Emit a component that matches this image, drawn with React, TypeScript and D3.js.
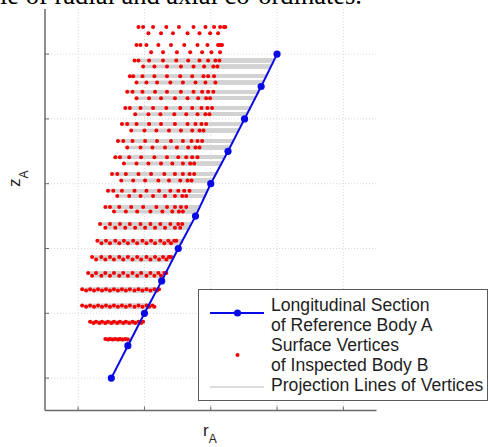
import { useEffect, useRef } from 'react';
import * as d3 from 'd3';

// tick positions (the original shows no tick labels)
const rTicks = [0, 1, 2, 3, 4];
const zTicks = [0, 1, 2, 3, 4, 5];

// longitudinal section of reference body A
const sectionR = [0.5, 0.75, 1.0, 1.26, 1.51, 1.77, 2.0, 2.26, 2.51, 2.76, 3.0];
const sectionZ = [0, 0.5, 1.0, 1.5, 2.0, 2.5, 3.0, 3.5, 4.0, 4.5, 5.0];

// surface vertices of inspected body B, one ring per row (upper / lower half of each ring)
const rowZUpper = [5.42, 5.14, 4.9, 4.66, 4.42, 4.17, 3.92, 3.66, 3.41, 3.15, 2.89, 2.64, 2.38, 2.12, 1.87, 1.62, 1.37, 1.12, 0.87, 0.605];
const rowZLower = [5.32, 5.03, 4.81, 4.56, 4.32, 4.07, 3.82, 3.56, 3.31, 3.05, 2.81, 2.57, 2.32, 2.08, 1.83, 1.58, 1.35, 1.1, 0.85, 0.595];

const rowUpperR = [
    [0.91, 0.98, 1.13, 1.33, 1.52, 1.74, 1.92, 2.05, 2.14, 2.2, 2.22],
    [0.88, 0.94, 1.03, 1.21, 1.4, 1.6, 1.8, 1.95, 2.11, 2.14, 2.17],
    [0.85, 0.91, 1.07, 1.28, 1.48, 1.66, 1.83, 1.96, 2.07, 2.13],
    [0.78, 0.83, 0.97, 1.15, 1.34, 1.54, 1.72, 1.89, 1.96, 2.05],
    [0.74, 0.82, 0.97, 1.16, 1.34, 1.55, 1.74, 1.87, 1.96, 2.04],
    [0.71, 0.78, 0.94, 1.13, 1.33, 1.54, 1.72, 1.86, 1.95, 2.02],
    [0.66, 0.74, 0.88, 1.07, 1.25, 1.46, 1.65, 1.77, 1.86, 1.93],
    [0.6, 0.68, 0.82, 1.01, 1.19, 1.4, 1.58, 1.71, 1.8, 1.87],
    [0.56, 0.63, 0.77, 0.95, 1.15, 1.34, 1.51, 1.63, 1.72, 1.8],
    [0.51, 0.59, 0.72, 0.91, 1.1, 1.3, 1.46, 1.58, 1.68, 1.75],
    [0.45, 0.53, 0.66, 0.85, 1.03, 1.22, 1.39, 1.51, 1.6, 1.68],
    [0.41, 0.48, 0.62, 0.8, 0.98, 1.18, 1.34, 1.46, 1.55, 1.63],
    [0.33, 0.48, 0.63, 0.78, 0.94, 1.09, 1.24, 1.39, 1.51, 1.57],
    [0.29, 0.42, 0.56, 0.69, 0.83, 0.97, 1.1, 1.24, 1.36, 1.45, 1.48],
    [0.21, 0.35, 0.48, 0.62, 0.75, 0.89, 1.03, 1.16, 1.28, 1.37, 1.4],
    [0.15, 0.27, 0.41, 0.54, 0.68, 0.82, 0.95, 1.09, 1.21, 1.3, 1.33],
    [0.06, 0.18, 0.3, 0.42, 0.54, 0.66, 0.78, 0.91, 1.03, 1.15, 1.22],
    [0.06, 0.18, 0.3, 0.42, 0.54, 0.66, 0.78, 0.91, 1.03, 1.12],
    [0.18, 0.27, 0.36, 0.45, 0.54, 0.63, 0.72, 0.82, 0.91, 0.98],
    [0.41, 0.48, 0.56, 0.63, 0.71],
];

const rowLowerR = [
    [1.06, 1.25, 1.43, 1.65, 1.83, 1.99, 2.11],
    [1.1, 1.28, 1.49, 1.69, 1.87, 2.01, 2.14],
    [0.98, 1.15, 1.34, 1.55, 1.74, 1.9, 2.04, 2.1],
    [0.88, 1.03, 1.19, 1.39, 1.58, 1.77, 1.92, 2.07],
    [0.88, 1.07, 1.25, 1.46, 1.65, 1.81, 1.93, 1.99],
    [0.86, 1.06, 1.24, 1.45, 1.63, 1.8, 1.92, 1.98],
    [0.8, 1.0, 1.18, 1.37, 1.55, 1.72, 1.83, 1.89],
    [0.74, 0.94, 1.12, 1.31, 1.49, 1.66, 1.77, 1.83],
    [0.69, 0.88, 1.06, 1.25, 1.42, 1.58, 1.69, 1.75],
    [0.65, 0.83, 1.01, 1.21, 1.37, 1.54, 1.65, 1.71],
    [0.59, 0.77, 0.94, 1.13, 1.31, 1.46, 1.57, 1.63],
    [0.54, 0.72, 0.89, 1.09, 1.27, 1.42, 1.52, 1.58],
    [0.41, 0.56, 0.71, 0.86, 1.01, 1.16, 1.31, 1.46, 1.54],
    [0.35, 0.48, 0.62, 0.75, 0.89, 1.03, 1.16, 1.3, 1.4],
    [0.27, 0.41, 0.54, 0.68, 0.82, 0.95, 1.09, 1.22, 1.33],
    [0.21, 0.35, 0.48, 0.62, 0.75, 0.89, 1.03, 1.15, 1.25],
    [0.12, 0.24, 0.36, 0.48, 0.6, 0.72, 0.85, 0.97, 1.09, 1.19],
    [0.12, 0.24, 0.36, 0.48, 0.6, 0.72, 0.85, 0.97, 1.07, 1.15],
    [0.23, 0.32, 0.41, 0.5, 0.59, 0.68, 0.77, 0.86, 0.95],
    [0.45, 0.52, 0.6, 0.67, 0.75],
];

const legendLabels = [
    ['Longitudinal Section', 'of Reference Body A'],
    ['Surface Vertices', 'of Inspected Body B'],
    ['Projection Lines of Vertices'],
];

const App = () => {
    const svgRef = useRef<SVGSVGElement>(null);

    useEffect(() => {
        if (!svgRef.current) return;
        const svg = d3.select(svgRef.current);
        svg.selectAll('*').remove();

        const width = 488;
        const height = 447;
        const plot = { left: 45, right: 376.5, top: 9, bottom: 410.5 };

        svg.attr('width', width).attr('height', height);
        svg.append('rect').attr('width', width).attr('height', height).attr('fill', '#fff');

        const x = d3.scaleLinear().domain([-0.5, 4.5]).range([plot.left, plot.right]);
        const y = d3.scaleLinear().domain([-0.5, 5.696]).range([plot.bottom, plot.top]);

        // grid
        const grid = svg.append('g').attr('stroke', '#d8d8d8').attr('stroke-width', 1).attr('stroke-dasharray', '1,2');
        rTicks.forEach(t => {
            grid.append('line')
                .attr('x1', x(t)).attr('x2', x(t))
                .attr('y1', plot.top).attr('y2', plot.bottom);
        });
        zTicks.forEach(t => {
            grid.append('line')
                .attr('x1', plot.left).attr('x2', plot.right)
                .attr('y1', y(t)).attr('y2', y(t));
        });

        // vertices as [r, z]
        const vertices: [number, number][] = [];
        rowZUpper.forEach((zu, i) => {
            rowUpperR[i].forEach(r => vertices.push([r, zu]));
            rowLowerR[i].forEach(r => vertices.push([r, rowZLower[i]]));
        });

        // horizontal projection onto the section line
        const sectionAt = d3.scaleLinear().domain(sectionZ).range(sectionR);
        const zMax = d3.max(sectionZ) as number;
        svg.append('g')
            .selectAll('line')
            .data(vertices.filter(d => d[1] <= zMax))
            .join('line')
            .attr('x1', d => x(d[0]))
            .attr('x2', d => x(sectionAt(d[1])))
            .attr('y1', d => y(d[1]))
            .attr('y2', d => y(d[1]))
            .attr('stroke', '#d2d2d2')
            .attr('stroke-width', 3.5);

        svg.append('g')
            .selectAll('circle')
            .data(vertices)
            .join('circle')
            .attr('cx', d => x(d[0]))
            .attr('cy', d => y(d[1]))
            .attr('r', 2)
            .attr('fill', '#f50000');

        // section line of body A
        const section = sectionR.map((r, i) => [r, sectionZ[i]] as [number, number]);
        const line = d3.line<[number, number]>().x(d => x(d[0])).y(d => y(d[1]));
        svg.append('path')
            .datum(section)
            .attr('d', line)
            .attr('fill', 'none')
            .attr('stroke', '#0a0ae6')
            .attr('stroke-width', 2);
        svg.append('g')
            .selectAll('circle')
            .data(section)
            .join('circle')
            .attr('cx', d => x(d[0]))
            .attr('cy', d => y(d[1]))
            .attr('r', 3.6)
            .attr('fill', '#0a0ae6');

        // axes (left and bottom only, ticks inward)
        const axisColor = '#6a6a6a';
        svg.append('line')
            .attr('x1', plot.left).attr('x2', plot.left)
            .attr('y1', plot.top).attr('y2', plot.bottom)
            .attr('stroke', axisColor).attr('stroke-width', 1.5);
        svg.append('line')
            .attr('x1', plot.left).attr('x2', plot.right)
            .attr('y1', plot.bottom).attr('y2', plot.bottom)
            .attr('stroke', axisColor).attr('stroke-width', 1.5);
        zTicks.forEach(t => {
            svg.append('line')
                .attr('x1', plot.left).attr('x2', plot.left + 4)
                .attr('y1', y(t)).attr('y2', y(t))
                .attr('stroke', axisColor).attr('stroke-width', 1);
        });
        rTicks.forEach(t => {
            svg.append('line')
                .attr('x1', x(t)).attr('x2', x(t))
                .attr('y1', plot.bottom).attr('y2', plot.bottom - 4)
                .attr('stroke', axisColor).attr('stroke-width', 1);
        });

        // axis labels
        const rLabel = svg.append('text')
            .attr('x', 203).attr('y', 436)
            .style('font-family', '"Liberation Sans", Arial, sans-serif')
            .style('font-size', '17px')
            .attr('fill', '#222');
        rLabel.append('tspan').text('r');
        rLabel.append('tspan').attr('dy', 7).style('font-size', '12px').text('A');

        const zLabel = svg.append('text')
            .attr('transform', 'translate(20,187) rotate(-90)')
            .style('font-family', '"Liberation Sans", Arial, sans-serif')
            .style('font-size', '17px')
            .attr('fill', '#222');
        zLabel.append('tspan').text('z');
        zLabel.append('tspan').attr('dy', 8).style('font-size', '12px').text('A');

        // legend
        const legend = svg.append('g');
        legend.append('rect')
            .attr('x', 198.5).attr('y', 289.5)
            .attr('width', 289).attr('height', 111)
            .attr('fill', '#fff')
            .attr('stroke', '#5a5a5a')
            .attr('stroke-width', 1);
        const textX = 271;
        const baselines = [[311, 330.5], [350.5, 370.5], [391]];
        legendLabels.forEach((lines, i) => {
            lines.forEach((txt, j) => {
                legend.append('text')
                    .attr('x', textX)
                    .attr('y', baselines[i][j])
                    .style('font-family', '"Liberation Sans", Arial, sans-serif')
                    .style('font-size', '17.6px')
                    .attr('fill', '#1e1e1e')
                    .text(txt);
            });
        });
        legend.append('line')
            .attr('x1', 210).attr('x2', 264).attr('y1', 313).attr('y2', 313)
            .attr('stroke', '#0a0ae6').attr('stroke-width', 2);
        legend.append('circle').attr('cx', 237.5).attr('cy', 313).attr('r', 3.6).attr('fill', '#0a0ae6');
        legend.append('circle').attr('cx', 237.5).attr('cy', 355).attr('r', 2).attr('fill', '#f50000');
        legend.append('line')
            .attr('x1', 210).attr('x2', 264).attr('y1', 387).attr('y2', 387)
            .attr('stroke', '#d2d2d2').attr('stroke-width', 1.5);

        // tail of the caption above the figure (cut by the top edge, as in the source)
        svg.append('text')
            .attr('x', 362).attr('y', 3.5)
            .attr('text-anchor', 'end')
            .style('font-family', '"Liberation Serif", "Times New Roman", serif')
            .style('font-size', '26.5px')
            .attr('fill', '#000')
            .text('le of radial and axial co-ordinates.');
    }, []);

    return (
        <svg ref={svgRef} style={{ position: 'absolute', left: 0, top: 0, display: 'block' }}></svg>
    );
};

export default App;
